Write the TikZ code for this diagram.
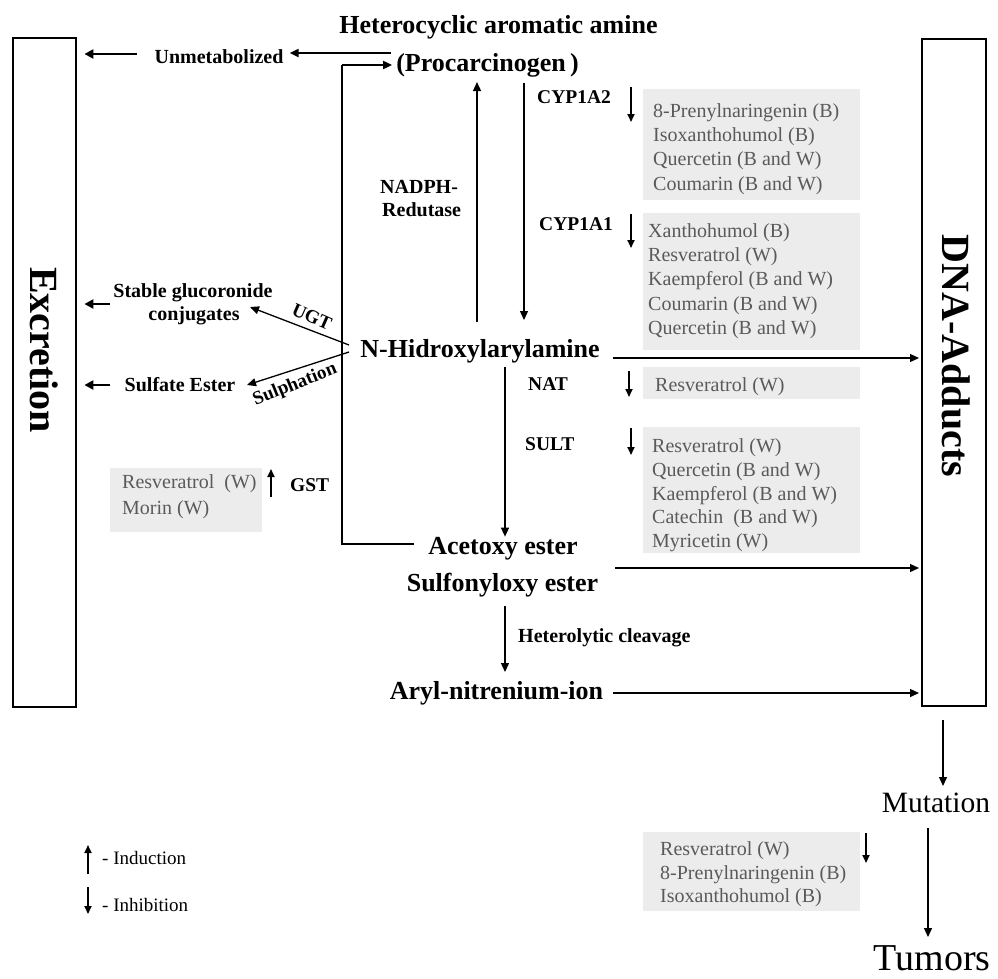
\documentclass[tikz,border=0pt]{standalone}
\usepackage{fontspec}
\setmainfont{Liberation Serif}
\usetikzlibrary{arrows.meta}
\definecolor{boxgray}{HTML}{ECECEC}
\definecolor{txtgray}{HTML}{5A5A5A}
\begin{document}
\begin{tikzpicture}[x=1pt,y=-1pt,
  thinarrow/.style={line width=1.3pt,-{Triangle[length=9pt,width=8pt]}},
  medarrow/.style={line width=2pt,-{Triangle[length=9pt,width=8pt]}},
  thickarrow/.style={line width=2.6pt,-{Triangle[length=9pt,width=9pt]}},
  inharrow/.style={line width=1.8pt,-{Triangle[length=8pt,width=7pt]}},
  bigbold/.style={font=\bfseries\fontsize{26}{30}\selectfont, inner sep=0},
  lbl/.style={font=\bfseries\fontsize{20}{24}\selectfont, inner sep=0},
  enz/.style={font=\bfseries\fontsize{19.5}{23}\selectfont, inner sep=0},
  graytext/.style={font=\fontsize{20}{24.2}\selectfont, text=txtgray, align=left, inner sep=0, anchor=north west},
  graybox/.style={fill=boxgray, draw=none, inner sep=0, anchor=north west},
  sidebox/.style={draw, line width=2.4pt, inner sep=0, anchor=north west},
  sidetext/.style={font=\bfseries\fontsize{40}{44}\selectfont, rotate=-90, inner sep=0},
  legend/.style={font=\fontsize{19}{22}\selectfont, inner sep=0, anchor=base west}
]
\useasboundingbox (0,0) rectangle (998,978);
\fill[white] (0,0) rectangle (998,978);

% side boxes
\node[sidebox, minimum width=63, minimum height=669] (excbox) at (12,37) {};
\node[sidetext] (exc) at (44,350) {Excretion};
\node[sidebox, minimum width=64, minimum height=667] (dnabox) at (921,38) {};
\node[sidetext] (dna) at (956,356) {DNA-Adducts};

% main chain
\node[bigbold, anchor=base] (title) at (498.5,33) {Heterocyclic aromatic amine};
\node[bigbold, anchor=base] (proc) at (487.5,71) {(Procarcinogen\,)};
\node[lbl, anchor=base] (unmet) at (219,63) {Unmetabolized};
\node[bigbold, anchor=base] (nhyd) at (480,357) {N-Hidroxylarylamine};
\node[bigbold, anchor=base] (acet) at (503,554) {Acetoxy ester};
\node[bigbold, anchor=base] (sulf) at (502.5,591) {Sulfonyloxy ester};
\node[lbl, anchor=base west] (hetero) at (518,642) {Heterolytic cleavage};
\node[bigbold, anchor=base] (aryl) at (496.5,699) {Aryl-nitrenium-ion};
\node[font=\fontsize{29.5}{32}\selectfont, inner sep=0, anchor=base] (mut) at (936,812) {Mutation};
\node[font=\fontsize{38}{42}\selectfont, inner sep=0, anchor=base] (tum) at (932,970) {Tumors};

% left products
\node[lbl, anchor=base] (glu1) at (193,297) {Stable glucoronide};
\node[lbl, anchor=base] (glu2) at (194,320) {conjugates};
\node[lbl, anchor=base] (sulfest) at (180,391) {Sulfate Ester};
\node[lbl, anchor=base west] (nadph1) at (380,193) {NADPH-};
\node[lbl, anchor=base west] (nadph2) at (382,216) {Redutase};

% enzymes
\node[enz, anchor=base west] (cyp2) at (537,103) {CYP1A2};
\node[enz, anchor=base west] (cyp1) at (539,230) {CYP1A1};
\node[enz, anchor=base west] (nat) at (528,390) {NAT};
\node[enz, anchor=base west] (sult) at (525,450) {SULT};
\node[enz, anchor=base west] (gst) at (290,491) {GST};

% gray boxes
\node[graybox, minimum width=217, minimum height=111] (b1) at (643,89) {};
\node[graytext] (t1) at (653,103.5) {8-Prenylnaringenin (B)\\Isoxanthohumol (B)\\Quercetin (B and W)\\Coumarin (B and W)};
\node[graybox, minimum width=217, minimum height=137] (b2) at (643,213) {};
\node[graytext] (t2) at (648,223.5) {Xanthohumol (B)\\Resveratrol (W)\\Kaempferol (B and W)\\Coumarin (B and W)\\Quercetin (B and W)};
\node[graybox, minimum width=217, minimum height=32] (b3) at (643,367) {};
\node[graytext] (t3) at (655,377.5) {Resveratrol (W)};
\node[graybox, minimum width=217, minimum height=126] (b4) at (643,427) {};
\node[graytext, font=\fontsize{20}{23.8}\selectfont] (t4) at (652,438.5) {Resveratrol (W)\\Quercetin (B and W)\\Kaempferol (B and W)\\Catechin\ \ (B and W)\\Myricetin (W)};
\node[graybox, minimum width=152, minimum height=64] (b5) at (110,468) {};
\node[graytext, font=\fontsize{20}{26}\selectfont] (t5) at (122,474.5) {Resveratrol\ \ (W)\\Morin (W)};
\node[graybox, minimum width=217, minimum height=79] (b6) at (643,832) {};
\node[graytext, font=\fontsize{20}{23.5}\selectfont] (t6) at (660,841.5) {Resveratrol (W)\\8-Prenylnaringenin (B)\\Isoxanthohumol (B)};

% legend
\node[legend] (ind) at (102,864) {- Induction};
\node[legend] (inh) at (102,911) {- Inhibition};

% connectors
\draw[medarrow] ([xshift=-5]proc.west |- 0,53) -- ([xshift=6]unmet.east |- 0,53);
\draw[thickarrow] ([xshift=-17]unmet.west |- 0,54) -- ([xshift=7]excbox.east |- 0,54);
\draw[line width=2.4pt] ([xshift=-14]acet.west |- 0,544) -| (342,65) coordinate (bk);
\draw[medarrow] (bk) -- ([xshift=-4]proc.west |- bk);
\draw[thinarrow] (477,322) -- (477,82);
\draw[thinarrow] (524,83) -- (524,320);
\draw[thinarrow] ([xshift=13]nhyd.east |- 0,358) -- ([xshift=-2]dnabox.west |- 0,358);
\draw[thinarrow] (505,367) -- (acet.north -| 505,0);
\draw[thinarrow] ([xshift=17]sulf.east |- 0,568) -- ([xshift=-2]dnabox.west |- 0,568);
\draw[thinarrow] (505,606) -- (505,672);
\draw[thinarrow] ([xshift=10]aryl.east |- 0,693) -- ([xshift=-2]dnabox.west |- 0,693);
\draw[thinarrow] (943,720) -- (943,786);
\draw[thinarrow] (928,828) -- (928,937);
\draw[thinarrow] (349,345) -- (250,307);
\draw[thinarrow] (349,352) -- (247,385);
\node[lbl, rotate=-24, font=\bfseries\fontsize{19}{22}\selectfont] (ugt) at (312,317) {UGT};
\node[lbl, rotate=22, font=\bfseries\fontsize{19}{22}\selectfont] (sulph) at (295,385) {Sulphation};
\draw[thickarrow] (110,304) -- ([xshift=7]excbox.east |- 0,304);
\draw[thickarrow] (110,385) -- ([xshift=7]excbox.east |- 0,385);

% induction / inhibition arrows
\draw[inharrow] (631,87) -- (631,122);
\draw[inharrow] (631,214) -- (631,248);
\draw[inharrow] (629,371) -- (629,397);
\draw[inharrow] (631,428) -- (631,455);
\draw[inharrow] (866,833) -- (866,863);
\draw[inharrow] (271,497) -- (271,469);
\draw[inharrow] (88,874) -- (88,845);
\draw[inharrow] (88,887) -- (88,914);
\end{tikzpicture}
\end{document}
